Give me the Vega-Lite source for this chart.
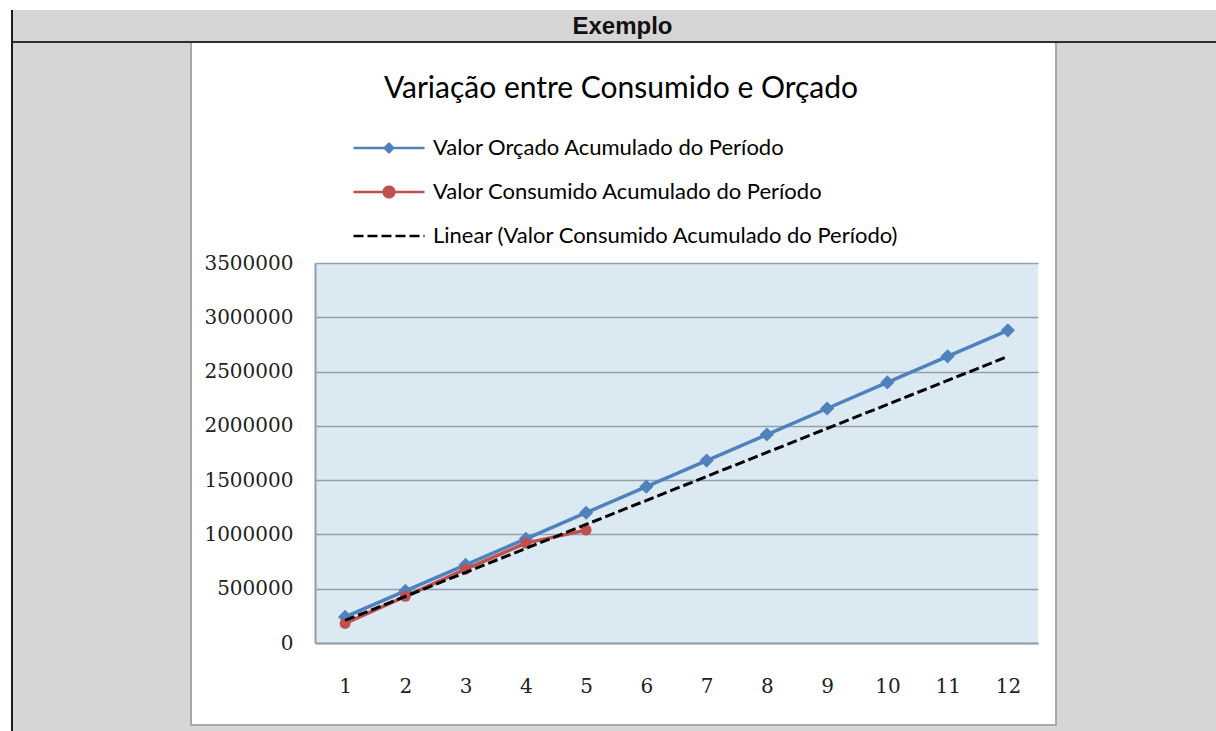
{
  "$schema": "https://vega.github.io/schema/vega-lite/v6.json",
  "background": "white",
  "padding": {"left": 11, "top": 10, "right": 0, "bottom": 0},
  "spacing": 0,
  "config": {"view": {"stroke": null}, "concat": {"spacing": 0}},
  "resolve": {"scale": {"color": "independent"}, "legend": {"color": "independent"}},
  "datasets": {
    "orcado": [
      {"mes": 1, "valor": 240000, "serie": "Valor Orçado Acumulado do Período"},
      {"mes": 2, "valor": 480000, "serie": "Valor Orçado Acumulado do Período"},
      {"mes": 3, "valor": 720000, "serie": "Valor Orçado Acumulado do Período"},
      {"mes": 4, "valor": 960000, "serie": "Valor Orçado Acumulado do Período"},
      {"mes": 5, "valor": 1200000, "serie": "Valor Orçado Acumulado do Período"},
      {"mes": 6, "valor": 1440000, "serie": "Valor Orçado Acumulado do Período"},
      {"mes": 7, "valor": 1680000, "serie": "Valor Orçado Acumulado do Período"},
      {"mes": 8, "valor": 1920000, "serie": "Valor Orçado Acumulado do Período"},
      {"mes": 9, "valor": 2160000, "serie": "Valor Orçado Acumulado do Período"},
      {"mes": 10, "valor": 2400000, "serie": "Valor Orçado Acumulado do Período"},
      {"mes": 11, "valor": 2640000, "serie": "Valor Orçado Acumulado do Período"},
      {"mes": 12, "valor": 2880000, "serie": "Valor Orçado Acumulado do Período"}
    ],
    "consumido": [
      {"mes": 1, "valor": 180000, "serie": "Valor Consumido Acumulado do Período", "tendencia": "Linear (Valor Consumido Acumulado do Período)"},
      {"mes": 2, "valor": 430000, "serie": "Valor Consumido Acumulado do Período", "tendencia": "Linear (Valor Consumido Acumulado do Período)"},
      {"mes": 3, "valor": 680000, "serie": "Valor Consumido Acumulado do Período", "tendencia": "Linear (Valor Consumido Acumulado do Período)"},
      {"mes": 4, "valor": 920000, "serie": "Valor Consumido Acumulado do Período", "tendencia": "Linear (Valor Consumido Acumulado do Período)"},
      {"mes": 5, "valor": 1040000, "serie": "Valor Consumido Acumulado do Período", "tendencia": "Linear (Valor Consumido Acumulado do Período)"}
    ],
    "vazio": [{"k": ""}],
    "cabecalho": [{"k": "Exemplo"}]
  },
  "vconcat": [
    {
      "spacing": 0,
      "hconcat": [
        {"width": 2, "height": 31, "view": {"fill": "#1e1e1e", "stroke": null}, "data": {"name": "vazio"}, "mark": {"type": "point", "size": 0, "opacity": 0, "filled": true}, "encoding": {}},
        {"width": 1203, "height": 31, "view": {"fill": "#d5d5d5", "stroke": null}, "data": {"name": "cabecalho"},
         "mark": {"type": "text", "font": "Liberation Sans", "fontSize": 24, "fontWeight": "bold", "color": "#111111", "baseline": "middle", "align": "center", "dx": 8, "dy": 1},
         "encoding": {"text": {"field": "k"}}}
      ]
    },
    {
      "spacing": 0,
      "hconcat": [
        {"width": 2, "height": 2, "view": {"fill": "#1e1e1e", "stroke": null}, "data": {"name": "vazio"}, "mark": {"type": "point", "size": 0, "opacity": 0, "filled": true}, "encoding": {}},
        {"width": 1203, "height": 2, "view": {"fill": "#2e2e2e", "stroke": null}, "data": {"name": "vazio"}, "mark": {"type": "point", "size": 0, "opacity": 0, "filled": true}, "encoding": {}}
      ]
    },
    {
      "spacing": 0,
      "resolve": {"scale": {"color": "independent"}, "legend": {"color": "independent"}},
      "hconcat": [
        {"width": 2, "height": 688, "view": {"fill": "#1e1e1e", "stroke": null}, "data": {"name": "vazio"}, "mark": {"type": "point", "size": 0, "opacity": 0, "filled": true}, "encoding": {}},
        {"width": 177, "height": 688, "view": {"fill": "#d6d6d6", "stroke": null}, "data": {"name": "vazio"}, "mark": {"type": "point", "size": 0, "opacity": 0, "filled": true}, "encoding": {}},
        {
          "spacing": 0,
          "resolve": {"scale": {"color": "independent"}, "legend": {"color": "independent"}},
          "vconcat": [
            {
              "spacing": 0,
              "resolve": {"scale": {"color": "independent"}, "legend": {"color": "independent"}},
              "hconcat": [
                {"width": 2, "height": 681, "view": {"fill": "#a9a9a9", "stroke": null}, "data": {"name": "vazio"}, "mark": {"type": "point", "size": 0, "opacity": 0, "filled": true}, "encoding": {}},
                {
                  "spacing": 0,
                  "resolve": {"scale": {"color": "independent"}, "legend": {"color": "independent"}},
                  "vconcat": [
                    {"width": 2, "height": 31, "data": {"name": "vazio"}, "mark": {"type": "point", "size": 0, "opacity": 0, "filled": true}, "encoding": {}},
                    {
                      "spacing": 0,
                      "resolve": {"scale": {"color": "independent"}, "legend": {"color": "independent"}},
                      "hconcat": [
                        {"width": 11, "height": 2, "data": {"name": "vazio"}, "mark": {"type": "point", "size": 0, "opacity": 0, "filled": true}, "encoding": {}},
                        {
                          "width": 723,
                          "height": 380,
                          "view": {"fill": "#dbe9f2", "stroke": null},
                          "title": {"text": "Variação entre Consumido  e Orçado", "font": "Lato", "fontSize": 30, "fontWeight": "normal", "color": "#000000", "anchor": "middle", "frame": "bounds", "offset": 33},
                          "encoding": {
                            "x": {"field": "mes", "type": "quantitative", "scale": {"domain": [0.5, 12.5], "nice": false, "zero": false},
                                  "axis": {"title": null, "values": [1,2,3,4,5,6,7,8,9,10,11,12], "format": "d", "grid": false, "ticks": false, "tickSize": 0, "labelPadding": 33, "labelFlush": false, "labelFont": "DejaVu Serif", "labelFontSize": 20, "labelColor": "#222222", "domainColor": "#8fa2ac", "domainWidth": 2}},
                            "y": {"field": "valor", "type": "quantitative", "scale": {"domain": [0, 3500000], "nice": false},
                                  "axis": {"title": null, "values": [0,500000,1000000,1500000,2000000,2500000,3000000,3500000], "format": "d", "grid": true, "gridColor": "#8fa2ac", "gridWidth": 1.6, "ticks": false, "tickSize": 0, "labelPadding": 22, "labelFlush": false, "labelFont": "DejaVu Serif", "labelFontSize": 20, "labelColor": "#222222", "domainColor": "#8fa2ac", "domainWidth": 2}}
                          },
                          "layer": [
                            {
                              "data": {"name": "orcado"},
                              "mark": {"type": "line", "strokeWidth": 3.5},
                              "encoding": {
                                "color": {"field": "serie", "type": "nominal",
                                  "scale": {"domain": ["Valor Orçado Acumulado do Período", "Valor Consumido Acumulado do Período", "Linear (Valor Consumido Acumulado do Período)"], "range": ["#4f81bd", "#c0504d", "#000000"]},
                                  "legend": {
                                    "title": null, "orient": "none", "legendX": 37, "legendY": -126, "direction": "vertical", "padding": 0,
                                    "symbolSize": 5041, "symbolStrokeWidth": 2.5, "clipHeight": 22, "rowPadding": 22, "labelOffset": 7,
                                    "labelFont": "Lato", "labelFontSize": 22, "labelColor": "#000000", "labelLimit": 600,
                                    "encode": {"symbols": {"update": {
                                      "shape": {"signal": "datum.value[0] == 'L' ? 'M-1,0H1' : (datum.value[6] == 'O' ? 'M-1,0H1M0,-0.12L0.12,0L0,0.12L-0.12,0Z' : 'M-1,0H1M-0.15,0A0.15,0.15,0,1,1,0.15,0A0.15,0.15,0,1,1,-0.15,0Z')"},
                                      "stroke": {"signal": "scale('color', datum.value)"},
                                      "fill": {"signal": "datum.value[0] == 'L' ? 'transparent' : scale('color', datum.value)"},
                                      "strokeDash": {"signal": "datum.value[0] == 'L' ? [10, 4] : [1, 0]"},
                                      "strokeWidth": {"value": 2.5},
                                      "opacity": {"value": 1}
                                    }}}
                                  }}
                              }
                            },
                            {
                              "data": {"name": "orcado"},
                              "mark": {"type": "point", "filled": true, "shape": "diamond", "size": 200, "opacity": 1},
                              "encoding": {"color": {"field": "serie", "type": "nominal"}}
                            },
                            {
                              "data": {"name": "consumido"},
                              "mark": {"type": "line", "strokeWidth": 3.5},
                              "encoding": {"color": {"field": "serie", "type": "nominal"}}
                            },
                            {
                              "data": {"name": "consumido"},
                              "mark": {"type": "point", "filled": true, "shape": "circle", "size": 120, "opacity": 1},
                              "encoding": {"color": {"field": "serie", "type": "nominal"}}
                            },
                            {
                              "data": {"name": "consumido"},
                              "transform": [{"regression": "valor", "on": "mes", "groupby": ["tendencia"], "extent": [1, 12]}],
                              "mark": {"type": "line", "strokeWidth": 3, "strokeDash": [10, 4]},
                              "encoding": {"color": {"field": "tendencia", "type": "nominal"}}
                            }
                          ]
                        },
                        {"width": 17, "height": 2, "data": {"name": "vazio"}, "mark": {"type": "point", "size": 0, "opacity": 0, "filled": true}, "encoding": {}}
                      ]
                    }
                  ]
                },
                {"width": 2, "height": 681, "view": {"fill": "#a9a9a9", "stroke": null}, "data": {"name": "vazio"}, "mark": {"type": "point", "size": 0, "opacity": 0, "filled": true}, "encoding": {}}
              ]
            },
            {"width": 867, "height": 2, "view": {"fill": "#a9a9a9", "stroke": null}, "data": {"name": "vazio"}, "mark": {"type": "point", "size": 0, "opacity": 0, "filled": true}, "encoding": {}},
            {"width": 867, "height": 5, "view": {"fill": "#d6d6d6", "stroke": null}, "data": {"name": "vazio"}, "mark": {"type": "point", "size": 0, "opacity": 0, "filled": true}, "encoding": {}}
          ]
        },
        {"width": 159, "height": 688, "view": {"fill": "#d6d6d6", "stroke": null}, "data": {"name": "vazio"}, "mark": {"type": "point", "size": 0, "opacity": 0, "filled": true}, "encoding": {}}
      ]
    }
  ]
}
